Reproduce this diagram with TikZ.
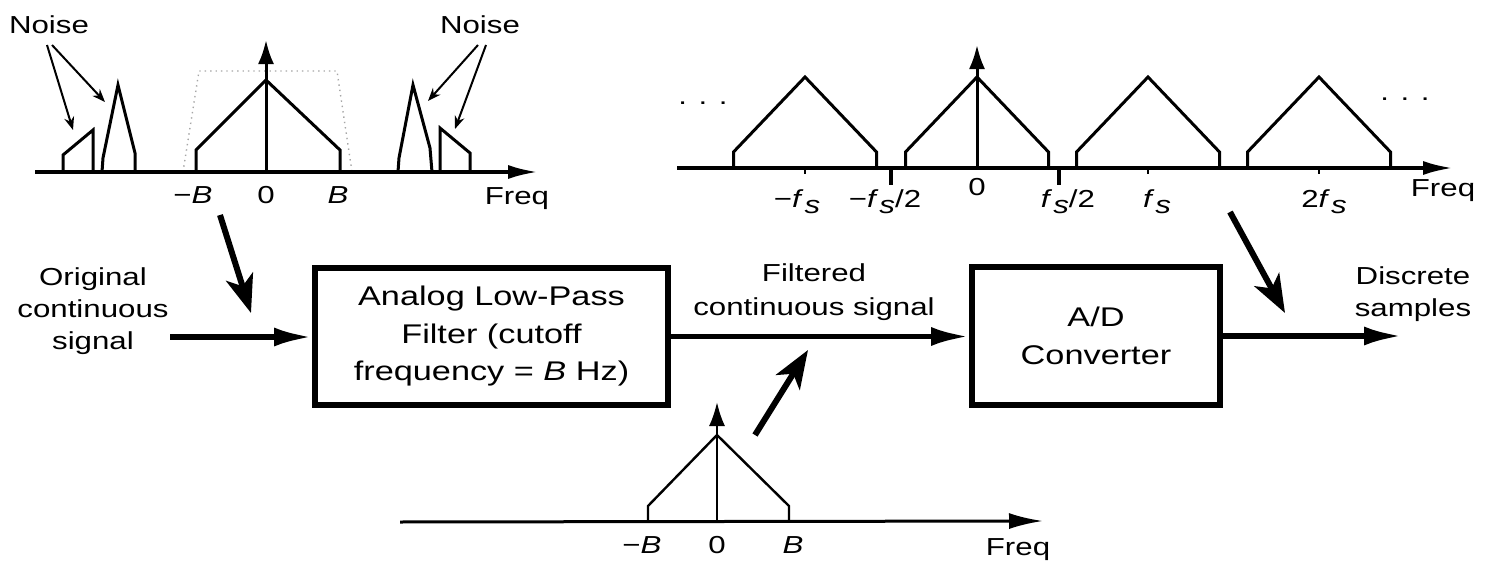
\documentclass[tikz,border=0pt]{standalone}
\usepackage{fontspec}
\setmainfont{Liberation Sans}[FakeStretch=1.27]
\usetikzlibrary{arrows.meta}
\newcommand{\fsub}{\textit{f}\kern0.04em\raisebox{-0.28em}{\textit{s}}}
\begin{document}
\begin{tikzpicture}[x=0.5pt,y=-0.5pt,
  font=\fontsize{12.3pt}{16pt}\selectfont,
  spec/.style={line width=1.5pt, line join=miter},
  axisarr/.style={line width=1.8pt, -{Latex[length=15pt,width=7pt]}},
  uparr/.style={line width=1.5pt, -{Latex[length=12pt,width=8pt]}},
  blk/.style={draw, line width=3pt, align=center, inner sep=0pt,
    font=\fontsize{13.5pt}{18.75pt}\selectfont},
  sig/.style={line width=2.7pt, -{Latex[length=19pt,width=9.5pt]}},
  big/.style={line width=3pt, -{Stealth[length=19pt,width=14pt,inset=5pt]}},
  narr/.style={line width=1pt, -{Stealth[length=6.5pt,width=5pt]}},
  lbl/.style={inner sep=0pt, anchor=base},
  txt/.style={align=center, inner sep=0pt}
]
\useasboundingbox (0,0) rectangle (1490,562);

% ---------- top-left spectrum ----------
\draw[gray!70, dotted, line width=0.7pt] (183,172) -- (199,71) -- (337,71) -- (352,172);
\draw[spec] (63,172) -- (63,155) -- (93,130) -- (93,172);
\draw[spec] (102,172) -- (103,158) -- (118,85) -- (135,153) -- (135,172);
\draw[spec] (196,172) -- (196,150) -- (266,80) -- (340,150) -- (340,172);
\draw[spec] (398,172) -- (399,158) -- (413,85) -- (430,148) -- (432,172);
\draw[spec] (440,172) -- (440,128) -- (470,153) -- (470,172);
\coordinate (tlA0) at (35,172); \coordinate (tlA1) at (538,172);
\draw[axisarr] (tlA0) -- (tlA1);
\coordinate (tlV0) at (266,172); \coordinate (tlV1) at (266,40);
\draw[uparr] (tlV0) -- (tlV1);
\node[lbl] (tlmB) at (193,203) {−\textit{B}};
\node[lbl] (tl0) at (266,203) {0};
\node[lbl] (tlB) at (338,203) {\textit{B}};
\node[lbl] (tlF) at (517,204) {Freq};
\node[lbl] (noiseL) at (49,33) {Noise};
\node[lbl] (noiseR) at (480,33) {Noise};
\coordinate (nl1) at (47,45); \coordinate (nl1e) at (73,130);
\coordinate (nl2) at (52,45); \coordinate (nl2e) at (105,102);
\coordinate (nr1) at (478,45); \coordinate (nr1e) at (428,101);
\coordinate (nr2) at (486,45); \coordinate (nr2e) at (455,129);
\draw[narr] (nl1) -- (nl1e);
\draw[narr] (nl2) -- (nl2e);
\draw[narr] (nr1) -- (nr1e);
\draw[narr] (nr2) -- (nr2e);

% ---------- top-right spectrum ----------
\foreach \c in {805,977,1148,1319}{
  \draw[spec] ({\c-71.5},168) -- ({\c-71.5},152) -- (\c,77) -- ({\c+71.5},152) -- ({\c+71.5},168);
}
\coordinate (trA0) at (677,168); \coordinate (trA1) at (1453,168);
\draw[axisarr] (trA0) -- (trA1);
\coordinate (trV0) at (977,168); \coordinate (trV1) at (977,45);
\draw[uparr] (trV0) -- (trV1);
\foreach \t in {805,1148,1319}{ \draw[line width=1.2pt] (\t,168) -- (\t,174); }
\draw[line width=2pt] (891,166) -- (891,185);
\draw[line width=2pt] (1059,166) -- (1059,185);
\node[lbl] (trmfs) at (797,207) {−\fsub};
\node[lbl] (trmfh) at (885,207) {−\fsub/2};
\node[lbl] (tr0) at (977,195) {0};
\node[lbl] (trfh) at (1068,207) {\fsub/2};
\node[lbl] (trfs) at (1157,207) {\fsub};
\node[lbl] (tr2fs) at (1324,207) {2\fsub};
\node[lbl] (trF) at (1443,196) {Freq};
\node (dotsL) at (703,103) {. . .};
\node (dotsR) at (1405,99) {. . .};

% ---------- blocks ----------
\node[blk, minimum width=176.5pt, minimum height=68.5pt] (lpf) at (491.5,336.5)
  {Analog Low-Pass\\Filter (cutoff\\frequency = \textit{B} Hz)};
\node[blk, minimum width=124pt, minimum height=69pt] (adc) at (1096,336)
  {A/D\\Converter};
\coordinate (inp) at (170,337);
\coordinate (outp) at (1402,335);
\draw[sig] (inp) -- (lpf.west |- inp);
\draw[sig] (lpf.east) -- (lpf.east -| adc.west);
\draw[sig] (adc.east) -- (adc.east -| outp);
\node[txt] (orig) at (93,311) {Original\\continuous\\signal};
\node[txt, font=\fontsize{12.3pt}{17pt}\selectfont] (filt) at (814,292.5) {Filtered\\continuous signal};
\node[txt] (disc) at (1413,294.5) {Discrete\\samples};

% ---------- big pointer arrows ----------
\coordinate (b1s) at (220,215); \coordinate (b1e) at (251,313);
\coordinate (b2s) at (755,435); \coordinate (b2e) at (808,350);
\coordinate (b3s) at (1230,212); \coordinate (b3e) at (1285,313);
\draw[big] (b1s) -- (b1e);
\draw[big] (b2s) -- (b2e);
\draw[big] (b3s) -- (b3e);

% ---------- bottom spectrum ----------
\draw[line width=1.2pt, line join=miter] (648,522) -- (648,506) -- (717,435) -- (789,506) -- (789,522);
\coordinate (bA0) at (400,522); \coordinate (bA1) at (1043,521);
\draw[line width=1.5pt, -{Latex[length=17pt,width=8pt]}] (bA0) -- (bA1);
\coordinate (bV0) at (717,522); \coordinate (bV1) at (717,402);
\draw[line width=1.2pt, -{Latex[length=12pt,width=8pt]}] (bV0) -- (bV1);
\node[lbl] (bmB) at (642,553) {−\textit{B}};
\node[lbl] (b0) at (717,553) {0};
\node[lbl] (bB) at (793,553) {\textit{B}};
\node[lbl] (bF) at (1018,555) {Freq};
\end{tikzpicture}
\end{document}
